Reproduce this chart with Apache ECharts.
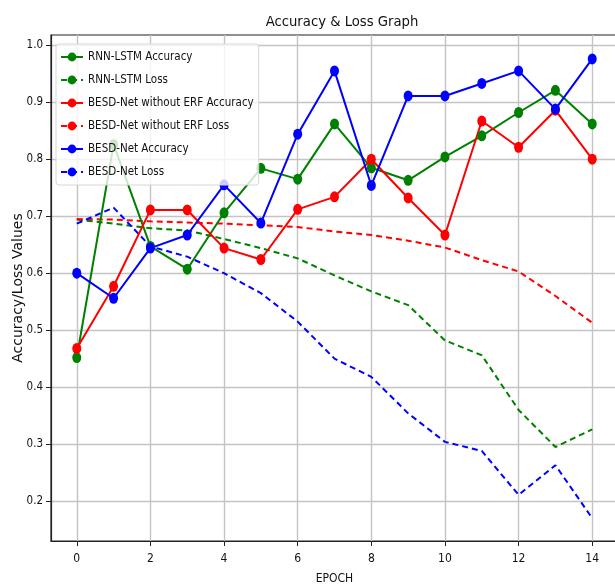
<!DOCTYPE html>
<html>
<head>
<meta charset="utf-8">
<script src="https://cdn.jsdelivr.net/npm/echarts@6/dist/echarts.min.js"></script>
<style>html,body{margin:0;padding:0;background:#fff}#c{width:615px;height:586px}</style>
</head>
<body>
<div id="c"></div>
<script>
const epochs = [0,1,2,3,4,5,6,7,8,9,10,11,12,13,14];
const rnnAcc = [0.452,0.826,0.647,0.607,0.706,0.784,0.765,0.862,0.785,0.763,0.804,0.841,0.882,0.921,0.862];
const rnnLoss = [0.694,0.687,0.679,0.675,0.660,0.644,0.626,0.596,0.568,0.544,0.482,0.456,0.360,0.295,0.326];
const noErfAcc = [0.468,0.577,0.711,0.711,0.644,0.624,0.712,0.734,0.800,0.732,0.667,0.867,0.821,0.886,0.800];
const noErfLoss = [0.695,0.694,0.691,0.689,0.687,0.684,0.681,0.673,0.667,0.657,0.645,0.623,0.603,0.560,0.513];
const besdAcc = [0.600,0.556,0.644,0.667,0.755,0.688,0.844,0.955,0.754,0.911,0.911,0.933,0.955,0.888,0.976];
const besdLoss = [0.687,0.715,0.647,0.629,0.600,0.565,0.515,0.450,0.418,0.354,0.304,0.288,0.211,0.263,0.170];
const xTicks = [0,2,4,6,8,10,12,14];
const yTicks = [0.2,0.3,0.4,0.5,0.6,0.7,0.8,0.9,1.0];

const FONT = "'DejaVu Sans Condensed','DejaVu Sans',sans-serif";
const FONT_REG = "'DejaVu Sans',sans-serif";
const pair = (arr) => epochs.map((e, i) => [e, arr[i]]);
function acc(name, color, arr) {
  return { name, type: 'line', data: pair(arr), symbol: 'circle', symbolSize: [9, 11],
    itemStyle: { color }, lineStyle: { color, width: 2 }, z: 3, animation: false };
}
function loss(name, color, arr) {
  return { name, type: 'line', data: pair(arr), symbol: 'none', showSymbol: false,
    itemStyle: { color }, lineStyle: { color, width: 2, type: [6, 4] }, z: 2, animation: false };
}
const chart = echarts.init(document.getElementById('c'));
chart.setOption({
  animation: false,
  backgroundColor: '#fff',
  title: { text: 'Accuracy & Loss Graph', left: 337, textAlign: 'center', top: 10,
    textStyle: { fontFamily: FONT, fontSize: 14.7, fontWeight: 'normal', color: '#111' } },
  grid: { left: 51, top: 35, width: 567, height: 506, show: true, borderColor: '#222', borderWidth: 1.2,
    backgroundColor: 'transparent', containLabel: false, outerBoundsMode: 'none' },
  legend: {
    orient: 'vertical', left: 56, top: 44, itemWidth: 22, itemHeight: 11, itemGap: 9,
    padding: [6, 5, 6, 4], backgroundColor: 'rgba(255,255,255,0.8)', borderColor: '#d6d6d6', borderWidth: 1, borderRadius: 3,
    textStyle: { fontFamily: FONT, fontSize: 11.5, lineHeight: 14, color: '#111' },
    data: ['RNN-LSTM Accuracy','RNN-LSTM Loss','BESD-Net without ERF Accuracy','BESD-Net without ERF Loss','BESD-Net Accuracy','BESD-Net Loss']
  },
  xAxis: {
    type: 'value', min: -0.7, max: 14.7,
    name: 'EPOCH', nameLocation: 'middle', nameGap: 32, nameMoveOverlap: false,
    nameTextStyle: { fontFamily: FONT, fontSize: 12, color: '#111' },
    axisLine: { show: true, onZero: false, lineStyle: { color: '#222', width: 1.2 } },
    axisTick: { show: true, length: 5, customValues: xTicks, lineStyle: { color: '#222' } },
    axisLabel: { customValues: xTicks, fontFamily: FONT, fontSize: 12, color: '#111', margin: 12 },
    splitLine: { show: true, lineStyle: { color: '#c4c4c4', width: 1.4 } }
  },
  yAxis: {
    type: 'value', min: 0.13, max: 1.018,
    name: 'Accuracy/Loss Values', nameLocation: 'middle', nameGap: 26, nameMoveOverlap: false,
    nameTextStyle: { fontFamily: FONT_REG, fontSize: 14, color: '#111' },
    axisLine: { show: true, onZero: false, lineStyle: { color: '#222', width: 1.2 } },
    axisTick: { show: true, length: 5, customValues: yTicks, lineStyle: { color: '#222' } },
    axisLabel: { customValues: yTicks, fontFamily: FONT, fontSize: 11.5, color: '#111', margin: 8,
      formatter: (v) => v.toFixed(1) },
    splitLine: { show: true, lineStyle: { color: '#c4c4c4', width: 1.4 } }
  },
  series: [
    acc('RNN-LSTM Accuracy', '#008000', rnnAcc),
    loss('RNN-LSTM Loss', '#008000', rnnLoss),
    acc('BESD-Net without ERF Accuracy', '#ff0000', noErfAcc),
    loss('BESD-Net without ERF Loss', '#ff0000', noErfLoss),
    acc('BESD-Net Accuracy', '#0000ff', besdAcc),
    loss('BESD-Net Loss', '#0000ff', besdLoss)
  ]
});
</script>
</body>
</html>
